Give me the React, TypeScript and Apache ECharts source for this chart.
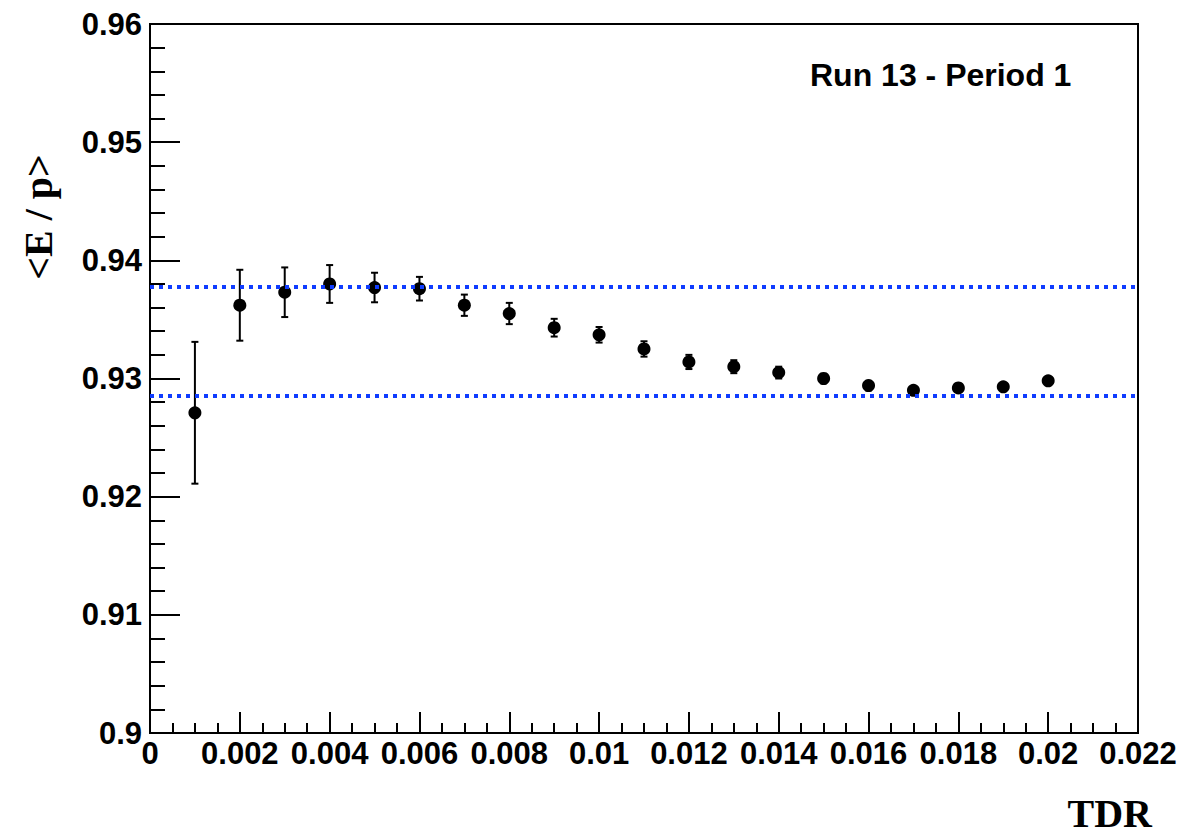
import React, { useEffect, useRef } from "react";
import * as echarts from "echarts";

const tdrValues = [0.001, 0.002, 0.003, 0.004, 0.005, 0.006, 0.007, 0.008, 0.009, 0.01, 0.011, 0.012, 0.013, 0.014, 0.015, 0.016, 0.017, 0.018, 0.019, 0.02];
const meanEp = [0.9271, 0.9362, 0.9373, 0.938, 0.9377, 0.9376, 0.9362, 0.9355, 0.9343, 0.9337, 0.9325, 0.9314, 0.931, 0.9305, 0.93, 0.9294, 0.929, 0.9292, 0.9293, 0.9298];
const errEp = [0.006, 0.003, 0.0021, 0.0016, 0.00125, 0.001, 0.0009, 0.0009, 0.00075, 0.00066, 0.00065, 0.0006, 0.00055, 0.0005, 0.0004, 0.0004, 0.0003, 0.0003, 0.0003, 0.0003];
const bandLines = [0.9378, 0.9285];
const titleText = "Run 13 - Period 1";
const xTitle = "TDR";
const yTitle = "<E / p>";

export default function App() {
  const ref = useRef<HTMLDivElement>(null);
  useEffect(() => {
    if (!ref.current) return;
    const chart = echarts.init(ref.current, null, { renderer: "svg" });
    const pts = tdrValues.map((x, i) => [x, meanEp[i]]);
    const errs = tdrValues.map((x, i) => [x, meanEp[i], errEp[i]]);
    const tickFont = { fontFamily: "Liberation Sans", fontWeight: "bold", fontSize: 31, color: "#000" };
    chart.setOption({
      animation: false,
      backgroundColor: "#fff",
      grid: { left: 150, right: 45, top: 24, bottom: 101, show: true, borderColor: "#000", borderWidth: 2 },
      xAxis: {
        type: "value", min: 0, max: 0.022, interval: 0.002,
        axisLine: { lineStyle: { color: "#000", width: 2 } },
        axisTick: { inside: true, length: 21, lineStyle: { color: "#000", width: 2 } },
        minorTick: { show: true, splitNumber: 4, length: 10, lineStyle: { color: "#000", width: 2 } },
        splitLine: { show: false },
        axisLabel: { ...tickFont, margin: 5, formatter: (v: number) => String(parseFloat(v.toFixed(4))) },
      },
      yAxis: {
        type: "value", min: 0.9, max: 0.96, interval: 0.01,
        axisLine: { lineStyle: { color: "#000", width: 2 } },
        axisTick: { inside: true, length: 30, lineStyle: { color: "#000", width: 2 } },
        minorTick: { show: true, splitNumber: 5, length: 15, lineStyle: { color: "#000", width: 2 } },
        splitLine: { show: false },
        axisLabel: { ...tickFont, margin: 8, formatter: (v: number) => String(parseFloat(v.toFixed(3))) },
      },
      series: [
        {
          type: "custom",
          z: 2,
          data: errs,
          encode: { x: 0, y: 1 },
          renderItem: (params: any, api: any) => {
            const x = api.value(0), y = api.value(1), e = api.value(2);
            const top = api.coord([x, y + e]);
            const bot = api.coord([x, y - e]);
            const cw = 3.5;
            const st = { stroke: "#000", lineWidth: 2 };
            return {
              type: "group",
              children: [
                { type: "line", shape: { x1: top[0], y1: top[1], x2: bot[0], y2: bot[1] }, style: st },
                { type: "line", shape: { x1: top[0] - cw, y1: top[1], x2: top[0] + cw, y2: top[1] }, style: st },
                { type: "line", shape: { x1: bot[0] - cw, y1: bot[1], x2: bot[0] + cw, y2: bot[1] }, style: st },
              ],
            };
          },
        },
        {
          type: "scatter",
          z: 3,
          data: pts,
          symbol: "circle",
          symbolSize: 13,
          itemStyle: { color: "#000", opacity: 1 },
        },
        {
          type: "line",
          z: 5,
          data: [],
          markLine: {
            silent: true,
            symbol: "none",
            precision: 5,
            label: { show: false },
            lineStyle: { color: "#0f3cff", width: 4, type: [4, 5] },
            data: bandLines.map((v) => ({ yAxis: v })),
          },
        },
      ],
      graphic: [
        {
          type: "text", x: 810, y: 75,
          style: { text: titleText, font: "bold 32px 'Liberation Sans'", fill: "#000", textAlign: "left", textVerticalAlign: "middle" },
        },
        {
          type: "text", x: 1152, y: 813,
          style: { text: xTitle, font: "bold 40px 'Liberation Serif'", fill: "#000", textAlign: "right", textVerticalAlign: "middle" },
        },
        {
          type: "text", x: 38, y: 217, rotation: Math.PI / 2,
          style: { text: yTitle, font: "bold 40px 'Liberation Serif'", fill: "#000", textAlign: "center", textVerticalAlign: "middle" },
        },
      ],
    });
    return () => chart.dispose();
  }, []);
  return <div ref={ref} style={{ position: "fixed", left: 0, top: 0, width: 1183, height: 834 }} />;
}
